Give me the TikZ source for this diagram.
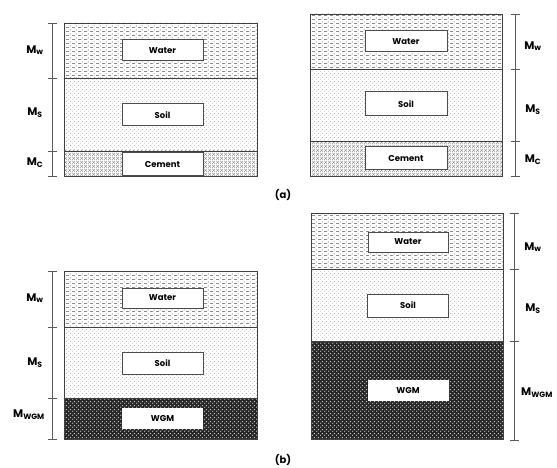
\documentclass[tikz,border=0pt]{standalone}
\usepackage{fontspec}
\setmainfont{Poppins}
\usetikzlibrary{patterns,patterns.meta}

\tikzdeclarepattern{
  name=waterpat, type=uncolored,
  bounding box={(0,0) and (6pt,4pt)},
  tile size={(6pt,4pt)},
  code={
    \draw[line width=0.6pt] (0,0.6pt) -- (3.6pt,0.6pt);
    \fill (4.8pt,2.6pt) circle (0.6pt);
  }
}
\tikzdeclarepattern{
  name=soilpat, type=uncolored,
  bounding box={(0,0) and (4pt,4pt)},
  tile size={(4pt,4pt)},
  code={
    \fill (1pt,1pt) circle (0.5pt);
    \fill (3pt,3pt) circle (0.5pt);
  }
}
\tikzdeclarepattern{
  name=crosspat, type=uncolored,
  bounding box={(0,0) and (4pt,4pt)},
  tile size={(4pt,4pt)},
  code={
    \draw[line width=0.45pt] (0,0) -- (4pt,4pt) (0,4pt) -- (4pt,0);
  }
}
\tikzdeclarepattern{
  name=wgmpat, type=uncolored,
  bounding box={(0,0) and (4pt,4pt)},
  tile size={(4pt,4pt)},
  code={
    \fill (1pt,1pt) circle (0.85pt);
    \fill (3pt,3pt) circle (0.85pt);
  }
}

\begin{document}
\begin{tikzpicture}[x=1pt,y=-1pt,
    water/.style={draw=black!75, line width=0.8pt, pattern=waterpat, pattern color=black!70},
    soil/.style={draw=black!75, line width=0.8pt, pattern=soilpat, pattern color=black!45},
    cement/.style={draw=black!75, line width=0.8pt, pattern=crosspat, pattern color=black!45},
    wgm/.style={draw=black!75, line width=0.8pt, preaction={fill=black!85}, pattern=wgmpat, pattern color=black!25},
    tag/.style={draw=black!70, line width=1pt, fill=white, inner sep=0pt, font=\bfseries\fontsize{8.5}{10}\selectfont},
    mass/.style={font=\bfseries\fontsize{11}{13}\selectfont},
    dim/.style={draw=black!65, line width=0.7pt},
    subcap/.style={font=\bfseries\fontsize{10}{12}\selectfont}]

  \useasboundingbox (0,0) rectangle (557,468);

  %% (a) left
  \draw[water] (64,23) rectangle (257,78);
  \draw[soil] (64,78) rectangle (257,151);
  \draw[cement] (64,151) rectangle (257,176);
  \node[tag, minimum width=81pt, minimum height=21pt] (wa1) at (162.5,50.5) {Water};
  \node[tag, minimum width=81pt, minimum height=22pt] (so1) at (162.5,115) {Soil};
  \node[tag, minimum width=81pt, minimum height=23pt] (ce1) at (162.5,164.5) {Cement};

  \coordinate (a1) at (52,23);
  \coordinate (a2) at (52,78);
  \coordinate (a3) at (52,151);
  \coordinate (a4) at (52,176);
  \draw[dim] (a1) -- (a4);
  \foreach \p in {a1,a2,a3,a4}
    \draw[dim] ([xshift=-4.5pt]\p) -- ([xshift=4.5pt]\p);
  \node[mass] (mw1) at (35,50) {M\textsubscript{w}};
  \node[mass] (ms1) at (35,113) {M\textsubscript{S}};
  \node[mass] (mc1) at (35,163) {M\textsubscript{C}};

  %% (a) right
  \draw[water] (310,14) rectangle (502,69);
  \draw[soil] (310,69) rectangle (502,141);
  \draw[cement] (310,141) rectangle (502,176);
  \node[tag, minimum width=82pt, minimum height=21pt] (wa2) at (406,41.5) {Water};
  \node[tag, minimum width=82pt, minimum height=24pt] (so2) at (406,104) {Soil};
  \node[tag, minimum width=82pt, minimum height=23pt] (ce2) at (406,158.5) {Cement};

  \coordinate (b1) at (515,14);
  \coordinate (b2) at (515,69);
  \coordinate (b3) at (515,141);
  \coordinate (b4) at (515,176);
  \draw[dim] (b1) -- (b4);
  \foreach \p in {b1,b2,b3,b4}
    \draw[dim] ([xshift=-4.5pt]\p) -- ([xshift=4.5pt]\p);
  \node[mass] (mw2) at (533,46) {M\textsubscript{w}};
  \node[mass] (ms2) at (533,110) {M\textsubscript{S}};
  \node[mass] (mc2) at (533,160) {M\textsubscript{C}};

  \node[subcap] (capa) at (283,195) {(a)};

  %% (b) left
  \draw[water] (64,271) rectangle (257,327);
  \draw[soil] (64,327) rectangle (257,398);
  \draw[wgm] (64,398) rectangle (257,439);
  \node[tag, minimum width=81pt, minimum height=20pt] (wa3) at (162.5,298) {Water};
  \node[tag, minimum width=81pt, minimum height=22pt] (so3) at (162.5,363) {Soil};
  \node[tag, draw=none, minimum width=81pt, minimum height=21pt] (wg3) at (162.5,418.5) {WGM};

  \coordinate (c1) at (52,271);
  \coordinate (c2) at (52,327);
  \coordinate (c3) at (52,398);
  \coordinate (c4) at (52,439);
  \draw[dim] (c1) -- (c4);
  \foreach \p in {c1,c2,c3,c4}
    \draw[dim] ([xshift=-4.5pt]\p) -- ([xshift=4.5pt]\p);
  \node[mass] (mw3) at (35,298) {M\textsubscript{w}};
  \node[mass] (ms3) at (35,363) {M\textsubscript{S}};
  \node[mass] (mg3) at (29,415) {M\textsubscript{WGM}};

  %% (b) right
  \draw[water] (311,213) rectangle (503,269);
  \draw[soil] (311,269) rectangle (503,341);
  \draw[wgm] (311,341) rectangle (503,439);
  \node[tag, minimum width=80pt, minimum height=20pt] (wa4) at (408,242) {Water};
  \node[tag, minimum width=81pt, minimum height=23pt] (so4) at (408,305.5) {Soil};
  \node[tag, draw=none, minimum width=81pt, minimum height=21pt] (wg4) at (408,390.5) {WGM};

  \coordinate (d1) at (514,213);
  \coordinate (d2) at (514,269);
  \coordinate (d3) at (514,341);
  \coordinate (d4) at (514,440);
  \draw[dim] (d1) -- (d4);
  \foreach \p in {d1,d2,d3,d4}
    \draw[dim] ([xshift=-4.5pt]\p) -- ([xshift=4.5pt]\p);
  \node[mass] (mw4) at (533,247) {M\textsubscript{w}};
  \node[mass] (ms4) at (533,309) {M\textsubscript{S}};
  \node[mass] (mg4) at (537,393) {M\textsubscript{WGM}};

  \node[subcap] (capb) at (283,460) {(b)};

\end{tikzpicture}
\end{document}
